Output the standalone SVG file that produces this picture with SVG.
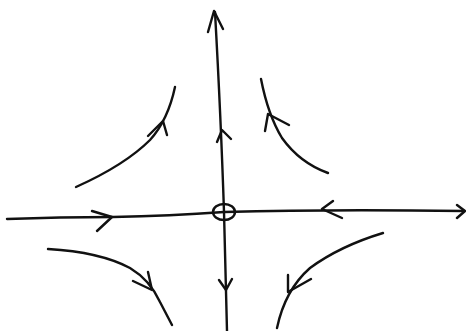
<svg xmlns="http://www.w3.org/2000/svg" width="466" height="331" viewBox="0 0 466 331">
<style>
.s{fill:none;stroke:#111;stroke-width:2.4;stroke-linecap:round;stroke-linejoin:round}
</style>
<rect width="466" height="331" fill="#fff"/>
<g id="axes">
<path class="s" d="M215,12 Q221,120 224,212 L227,331"/>
<path class="s" d="M208,32 L214,11 L223,29"/>
<path class="s" d="M7,219 Q60,217 113,217 Q170,216 224,212 Q330,209 464,211"/>
<path class="s" d="M457,205 L465,211 L457,218"/>
<ellipse id="origin" class="s" cx="224" cy="212" rx="11" ry="8"/>
</g>
<g id="axis-arrows">
<path class="s" d="M217,142 L222,130 L231,139"/>
<path class="s" d="M219,280 L226,290 L232,279"/>
<path class="s" d="M92,211 L112,217 L97,231"/>
<path class="s" d="M333,201 L322,209 L342,218"/>
</g>
<g id="trajectories">
<path class="s" d="M76,187 Q125,165 150,140 Q168,120 175,87"/>
<path class="s" d="M148,136 L163,121 L167,135"/>
<path class="s" d="M261,79 Q268,115 282,138 Q300,163 328,173"/>
<path class="s" d="M265,131 L268,114 L289,125"/>
<path class="s" d="M48,249 Q100,252 130,268 Q150,280 160,302 L172,325"/>
<path class="s" d="M133,281 L152,290 L148,272"/>
<path class="s" d="M383,233 Q340,246 310,268 Q285,290 277,328"/>
<path class="s" d="M288,275 L288,292 L311,279"/>
</g>
</svg>
